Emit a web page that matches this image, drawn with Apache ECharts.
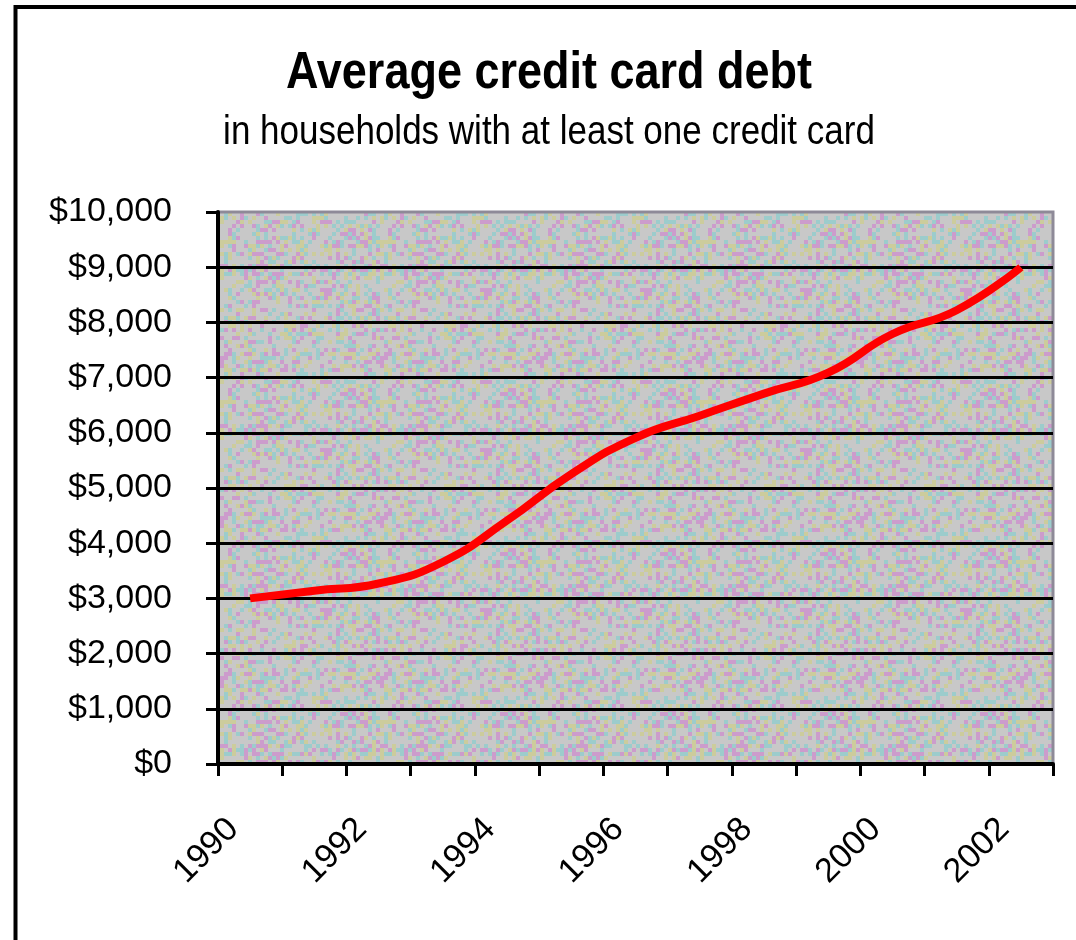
<!DOCTYPE html>
<html>
<head>
<meta charset="utf-8">
<style>
  html, body { margin: 0; padding: 0; background: #fff; }
  #chart { width: 1076px; height: 940px; }
</style>
<script src="https://cdn.jsdelivr.net/npm/echarts@6/dist/echarts.min.js"></script>
</head>
<body>
<div id="chart"></div>
<script>
// ---- data ----
const years = ['1990','1991','1992','1993','1994','1995','1996','1997','1998','1999','2000','2001','2002'];
const debt  = [3000, 3140, 3270, 3660, 4410, 5250, 5910, 6310, 6710, 7090, 7790, 8220, 9000];
const yMin = 0, yMax = 10000, yStep = 1000;
const titleText = 'Average credit card debt';
const subtitleText = 'in households with at least one credit card';

// ---- dithered plot-area texture (decoration only) ----
function makePattern() {
  const cell = 4, n = 40;
  const c = document.createElement('canvas');
  c.width = cell * n; c.height = cell * n;
  const ctx = c.getContext('2d');
  const cols = ['#c8c8c8', '#c8c8c8', '#c8c8c8', '#cc9ccc', '#9ccccc', '#cccc9c'];
  let s = 12345;
  for (let i = 0; i < n; i++) {
    for (let j = 0; j < n; j++) {
      s = (s * 1103515245 + 12345) & 0x7fffffff;
      ctx.fillStyle = cols[(s >>> 16) % cols.length];
      ctx.fillRect(i * cell, j * cell, cell, cell);
    }
  }
  return c;
}

function money(v) {
  return '$' + String(v).replace(/\B(?=(\d{3})+(?!\d))/g, ',');
}

const chart = echarts.init(document.getElementById('chart'), null, { renderer: 'canvas' });
chart.setOption({
  animation: false,
  backgroundColor: '#ffffff',
  graphic: [
    { type: 'rect', z: 100, silent: true,
      shape: { x: 15.5, y: 7, width: 1200, height: 1100 },
      style: { fill: 'none', stroke: '#000', lineWidth: 4 } },
    { type: 'text', x: 549, y: 74, scaleY: 1.15, z: 100,
      style: { text: titleText, font: 'bold 45px "Liberation Sans", Arial, sans-serif',
               fill: '#000', textAlign: 'center', textVerticalAlign: 'middle',
               align: 'center', verticalAlign: 'middle' } },
    { type: 'text', x: 549, y: 133, scaleY: 1.15, z: 100,
      style: { text: subtitleText, font: '35px "Liberation Sans", Arial, sans-serif',
               fill: '#000', textAlign: 'center', textVerticalAlign: 'middle',
               align: 'center', verticalAlign: 'middle' } }
  ],
  grid: {
    show: true,
    left: 218, right: 23, top: 212, bottom: 176,
    backgroundColor: { image: makePattern(), repeat: 'repeat' },
    borderColor: '#8e8a98', borderWidth: 3
  },
  xAxis: {
    type: 'category',
    data: years,
    boundaryGap: true,
    axisLine: { show: true, lineStyle: { color: '#000', width: 4 } },
    axisTick: { show: true, interval: 0, length: 12, lineStyle: { color: '#000', width: 3 } },
    axisLabel: {
      interval: 1, rotate: 45, margin: 77,
      verticalAlign: 'bottom', lineHeight: 48,
      color: '#000', fontSize: 34, fontFamily: '"Liberation Sans", Arial, sans-serif'
    },
    splitLine: { show: false }
  },
  yAxis: {
    type: 'value',
    min: yMin, max: yMax, interval: yStep,
    axisLine: { show: true, lineStyle: { color: '#000', width: 4 } },
    axisTick: { show: true, length: 12, lineStyle: { color: '#000', width: 3 } },
    axisLabel: {
      margin: 46, color: '#000', fontSize: 34,
      fontFamily: '"Liberation Sans", Arial, sans-serif',
      formatter: money
    },
    splitLine: { show: true, showMaxLine: false, showMinLine: false,
                 lineStyle: { color: '#000', width: 3 } }
  },
  series: [{
    type: 'line',
    data: debt,
    smooth: true,
    symbol: 'none',
    lineStyle: { color: '#ff0000', width: 8 },
    z: 5
  }]
});
</script>
</body>
</html>
